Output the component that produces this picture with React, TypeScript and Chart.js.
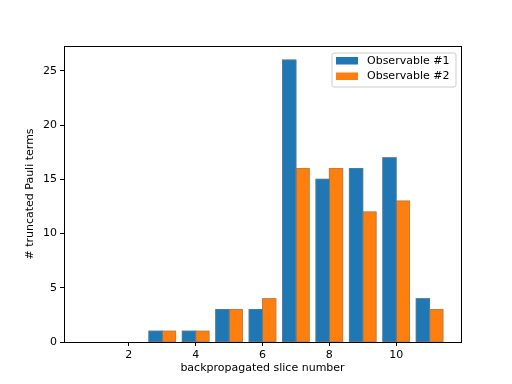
import React, { useEffect, useRef } from "react";
import { Chart, registerables } from "chart.js";

Chart.register(...registerables);

const slices = [1, 2, 3, 4, 5, 6, 7, 8, 9, 10, 11];
const observable1 = [0, 0, 1, 1, 3, 3, 26, 15, 16, 17, 4];
const observable2 = [0, 0, 1, 1, 3, 4, 16, 16, 12, 13, 3];
const seriesLabels = ["Observable #1", "Observable #2"];
const seriesColors = ["#1f77b4", "#ff7f0e"];
const xTicks = [2, 4, 6, 8, 10];
const yTicks = [0, 5, 10, 15, 20, 25];
const xRange = [0.06, 11.94];
const yRange = [0, 27.3];

const FONT = "'DejaVu Sans', sans-serif";

const edgePlugin = {
  id: "barEdges",
  afterDatasetsDraw(chart: any) {
    const { ctx } = chart;
    ctx.save();
    ctx.strokeStyle = "rgba(128,128,128,0.6)";
    ctx.lineWidth = 0.8;
    chart.data.datasets.forEach((_: any, di: number) => {
      const meta = chart.getDatasetMeta(di);
      meta.data.forEach((bar: any) => {
        const { x, y, base, width } = bar.getProps(["x", "y", "base", "width"], true);
        if (Math.abs(base - y) < 0.5) return;
        ctx.strokeRect(x - width / 2, Math.min(y, base), width, Math.abs(base - y));
      });
    });
    ctx.restore();
  },
};

const framePlugin = {
  id: "frame",
  afterDatasetsDraw(chart: any) {
    const { ctx, chartArea } = chart;
    ctx.save();
    ctx.strokeStyle = "#000";
    ctx.lineWidth = 1;
    ctx.strokeRect(
      Math.round(chartArea.left) + 0.5,
      Math.round(chartArea.top) + 0.5,
      Math.round(chartArea.right - chartArea.left),
      Math.round(chartArea.bottom - chartArea.top)
    );
    ctx.restore();
  },
};

const legendPlugin = {
  id: "mplLegend",
  afterDraw(chart: any) {
    const { ctx, chartArea } = chart;
    const ds = chart.data.datasets;
    const w = 124;
    const h = 34;
    const x = chartArea.right - 5 - w;
    const y = chartArea.top + 7;
    ctx.save();
    ctx.beginPath();
    const r = 2;
    ctx.moveTo(x + r, y);
    ctx.lineTo(x + w - r, y);
    ctx.quadraticCurveTo(x + w, y, x + w, y + r);
    ctx.lineTo(x + w, y + h - r);
    ctx.quadraticCurveTo(x + w, y + h, x + w - r, y + h);
    ctx.lineTo(x + r, y + h);
    ctx.quadraticCurveTo(x, y + h, x, y + h - r);
    ctx.lineTo(x, y + r);
    ctx.quadraticCurveTo(x, y, x + r, y);
    ctx.closePath();
    ctx.fillStyle = "rgba(255,255,255,0.8)";
    ctx.fill();
    ctx.strokeStyle = "#cccccc";
    ctx.lineWidth = 1;
    ctx.stroke();
    ctx.font = `11px ${FONT}`;
    ctx.textBaseline = "middle";
    ds.forEach((d: any, i: number) => {
      const ry = y + 4 + i * 15.5;
      ctx.fillStyle = d.backgroundColor;
      ctx.fillRect(x + 4, ry, 22, 7.5);
      ctx.fillStyle = "#000";
      ctx.fillText(d.label, x + 35, ry + 4);
    });
    ctx.restore();
  },
};

export default function App() {
  const ref = useRef<HTMLCanvasElement>(null);
  useEffect(() => {
    if (!ref.current) return;
    const chart = new Chart(ref.current, {
      type: "bar",
      data: {
        datasets: [observable1, observable2].map((vals, i) => ({
          label: seriesLabels[i],
          data: slices.map((s, j) => ({ x: s, y: vals[j] })),
          backgroundColor: seriesColors[i],
          borderWidth: 0,
          inflateAmount: (c: any) => (c.raw && c.raw.y === 0 ? 0 : 0.5),
          categoryPercentage: 0.8,
          barPercentage: 1.0,
        })),
      },
      options: {
        animation: false,
        responsive: false,
        layout: { padding: { top: 46, right: 51, left: 0, bottom: 0 } },
        plugins: { legend: { display: false }, tooltip: { enabled: false } },
        scales: {
          x: {
            type: "linear",
            min: xRange[0],
            max: xRange[1],
            offset: false,
            afterBuildTicks: (s: any) => {
              s.ticks = xTicks.map((v) => ({ value: v }));
            },
            afterFit: (s: any) => {
              s.height = 42;
            },
            grid: {
              offset: false,
              drawOnChartArea: false,
              drawTicks: true,
              tickLength: 4,
              color: "#000",
            },
            border: { display: true, color: "#000" },
            ticks: {
              color: "#000",
              padding: 3,
              font: { family: FONT, size: 11 },
              maxRotation: 0,
              autoSkip: false,
            },
            title: {
              display: true,
              text: "backpropagated slice number",
              color: "#000",
              font: { family: FONT, size: 11 },
              padding: { top: 0, bottom: 9 },
            },
          },
          y: {
            type: "linear",
            min: yRange[0],
            max: yRange[1],
            afterBuildTicks: (s: any) => {
              s.ticks = yTicks.map((v) => ({ value: v }));
            },
            afterFit: (s: any) => {
              s.width = 64;
            },
            grid: {
              drawOnChartArea: false,
              drawTicks: true,
              tickLength: 4,
              color: "#000",
            },
            border: { display: true, color: "#000" },
            ticks: {
              color: "#000",
              padding: 3,
              font: { family: FONT, size: 11 },
              autoSkip: false,
            },
            title: {
              display: true,
              text: "# truncated Pauli terms",
              color: "#000",
              font: { family: FONT, size: 11 },
              padding: { top: 24, bottom: 0 },
            },
          },
        },
      },
      plugins: [edgePlugin, framePlugin, legendPlugin],
    } as any);
    return () => chart.destroy();
  }, []);
  return (
    <div style={{ position: "fixed", left: 0, top: 0, width: 512, height: 384, background: "#fff" }}>
      <canvas ref={ref} width={512} height={384} />
    </div>
  );
}
